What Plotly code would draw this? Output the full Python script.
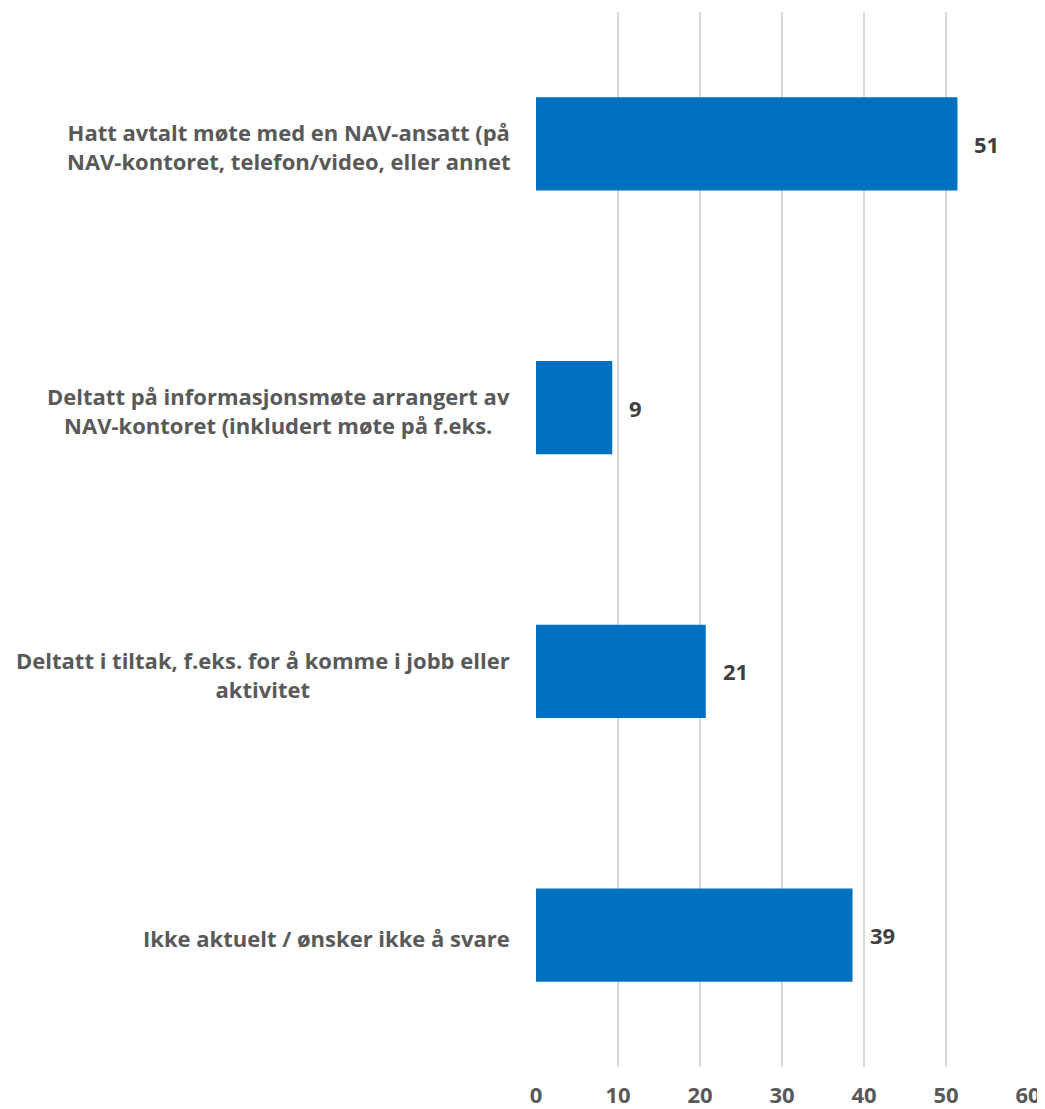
import plotly.graph_objects as go

categories = [
    "Hatt avtalt møte med en NAV-ansatt (på<br>NAV-kontoret, telefon/video, eller annet",
    "Deltatt på informasjonsmøte arrangert av<br>NAV-kontoret (inkludert møte på f.eks.",
    "Deltatt i tiltak, f.eks. for å komme i jobb eller<br>aktivitet",
    "Ikke aktuelt / ønsker ikke å svare",
]
values = [51.4, 9.3, 20.7, 38.6]
tick_vals = [0, 10, 20, 30, 40, 50, 60]

FONT = "Open Sans"
LABEL_COLOR = "#595959"

fig = go.Figure()
fig.add_trace(go.Bar(
    y=categories,
    x=values,
    orientation="h",
    marker=dict(color="#0070c0", line=dict(width=0)),
    width=0.353,
    hoverinfo="skip",
))

for cat, v in zip(categories, values):
    fig.add_annotation(
        x=v, y=cat, xref="x", yref="y",
        text=f"<b>{round(v)}</b>",
        showarrow=False, xanchor="left", xshift=15,
        font=dict(family=FONT, size=22, color="#404040"),
    )
    fig.add_annotation(
        x=0, y=cat, xref="paper", yref="y", yshift=-3,
        text=f"<b>{cat}</b>",
        showarrow=False, xanchor="right", xshift=-24, align="center",
        font=dict(family=FONT, size=22, color=LABEL_COLOR),
    )

fig.update_layout(
    width=1037, height=1101,
    margin=dict(l=528, r=17, t=4, b=42),
    plot_bgcolor="white", paper_bgcolor="white",
    showlegend=False,
)
fig.update_xaxes(
    range=[0, 60], tickvals=tick_vals,
    ticktext=[f"<b>{t}</b>" for t in tick_vals],
    showgrid=True, gridcolor="#d9d9d9", gridwidth=1.5,
    zeroline=False, showline=False, ticks="",
    ticklabelstandoff=13, automargin=False,
    tickfont=dict(family=FONT, size=22, color=LABEL_COLOR),
)
fig.update_yaxes(
    autorange="reversed", showticklabels=False, showgrid=False,
    zeroline=False, showline=False, ticks="", automargin=False,
)

fig.write_html("out.html")
